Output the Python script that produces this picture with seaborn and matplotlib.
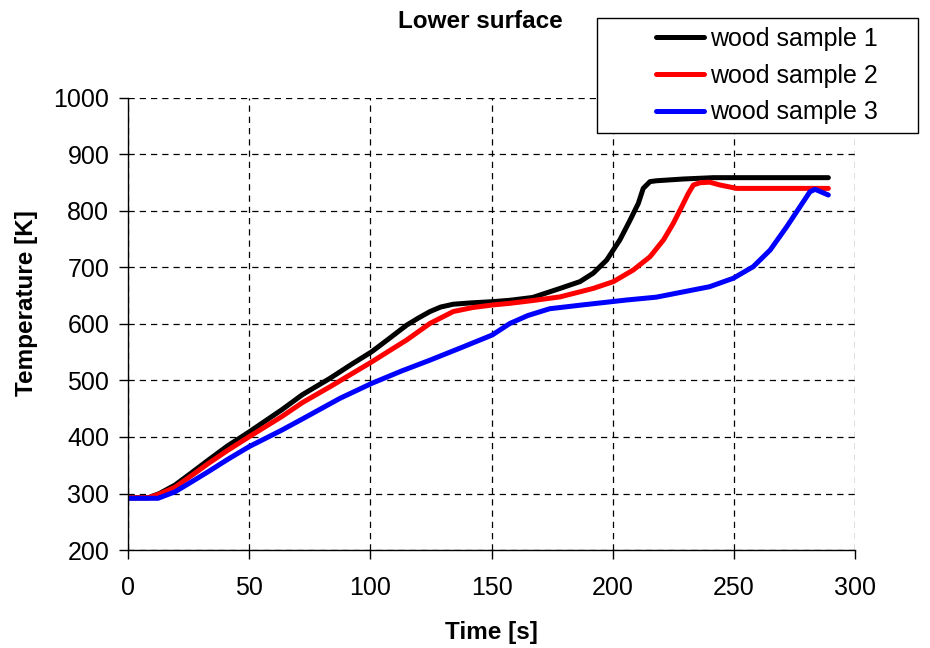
import matplotlib
matplotlib.use("Agg")
import matplotlib.pyplot as plt
import seaborn as sns
import pandas as pd
from matplotlib.patches import Rectangle

# ---- data ----
t1 = [0, 8.4, 13, 19.4, 26, 33.1, 41, 50, 63.4, 72, 83.4, 92, 100.6, 108, 115, 120, 124.6, 129, 134.2, 142, 150.3, 157.6, 167, 178.3, 186.5, 192, 197.5, 203, 207.2, 210.6, 212.6, 215.4, 218, 229, 241.5, 289]
T1 = [292.5, 292.5, 300, 315, 336, 359, 384, 409, 448, 475, 504, 528, 551, 575, 598, 611, 622, 630, 635, 637.5, 639.5, 642, 647, 663, 675, 690, 713, 749, 784, 813.6, 840, 852, 853.5, 856.6, 859, 859]

t2 = [0, 8.4, 13, 19.4, 26, 33.1, 41, 50, 63.4, 72, 83.4, 92, 100.6, 108, 115, 124.6, 134.2, 142, 150.3, 157.6, 167, 178.3, 192, 200.3, 208.5, 215.4, 221, 225, 228.5, 231.2, 233.3, 236, 240, 244.3, 251.2, 289]
T2 = [292.5, 292.5, 299, 311, 331, 353, 376, 400.5, 436, 461, 489, 511, 533, 553, 571.7, 601, 622, 629, 633.6, 636.6, 641.5, 648, 663, 675, 695.6, 719, 749, 778, 807.6, 831, 846, 850, 851, 846, 840, 840]

t3 = [0, 12.4, 19.4, 26, 33.1, 41, 50, 63.4, 72, 87.5, 100.6, 113, 124.6, 138, 150.3, 157.6, 165, 174, 188, 205.8, 218, 240, 249.8, 258, 265, 271.8, 277.3, 281.4, 283.5, 289]
T3 = [291.5, 291.5, 303, 320, 338.6, 360, 383, 412, 432, 468.5, 495, 517, 536, 559, 580.5, 601, 615, 627, 634, 642.5, 647.5, 666, 681, 701.5, 731, 772, 807.6, 834, 838.4, 828.3]

labels = ["wood sample 1", "wood sample 2", "wood sample 3"]
colors = ["#000000", "#ff0000", "#0000ff"]
xticks = [0, 50, 100, 150, 200, 250, 300]
yticks = [200, 300, 400, 500, 600, 700, 800, 900, 1000]

frames = []
for tt, TT, lab in zip([t1, t2, t3], [T1, T2, T3], labels):
    frames.append(pd.DataFrame({"Time": tt, "Temp": TT, "Sample": lab}))
df = pd.concat(frames, ignore_index=True)

sns.set_style("white")
plt.rcParams["font.family"] = ["Liberation Sans", "DejaVu Sans"]
for k in ["text.color", "axes.labelcolor", "xtick.color", "ytick.color"]:
    plt.rcParams[k] = "black"

fig = plt.figure(figsize=(9.3, 6.48), dpi=100)
ax = fig.add_axes([128/930, 1-550/648, (855-128)/930, (550-98)/648])

sns.lineplot(data=df, x="Time", y="Temp", hue="Sample", palette=colors,
             hue_order=labels, linewidth=3.6, ax=ax, sort=False,
             estimator=None, legend=True)

ax.set_xlim(0, 300)
ax.set_ylim(200, 1000)
ax.set_xticks(xticks)
ax.set_yticks(yticks)
ax.tick_params(axis="both", labelsize=18, direction="out", length=6.5,
               width=1, color="black", labelcolor="black", left=True, bottom=True)
ax.tick_params(axis="y", pad=7)
ax.tick_params(axis="x", pad=12)

ax.grid(True, color="black", linestyle=(0, (5, 4)), linewidth=0.9)
for s in ["top", "right"]:
    ax.spines[s].set_visible(False)
for s in ["left", "bottom"]:
    ax.spines[s].set_color("black")
    ax.spines[s].set_linewidth(1)

ax.set_xlabel("Time [s]", fontsize=17.5, fontweight="bold")
ax.set_ylabel("Temperature [K]", fontsize=17.5, fontweight="bold")
ax.xaxis.set_label_coords(0.5, -0.157)
ax.yaxis.set_label_coords(-0.1235, 0.546)

fig.text(480/930, 1-22/648, "Lower surface", fontsize=17.5, fontweight="bold",
         ha="center", va="center")

# legend box
handles, lbls = ax.get_legend_handles_labels()
ax.get_legend().remove()
rect = Rectangle((597/930, 1-133/648), (918-597)/930, (133-18)/648,
                 transform=fig.transFigure, facecolor="white",
                 edgecolor="black", linewidth=1, zorder=5)
fig.patches.append(rect)
leg = fig.legend(handles, lbls, loc="upper left",
                 bbox_to_anchor=(656/930, 1-27/648), frameon=False,
                 fontsize=18, handlelength=1.9, handletextpad=0.25,
                 labelspacing=0.51, borderpad=0, borderaxespad=0)
leg.set_zorder(6)
for h in leg.get_lines():
    h.set_linewidth(3.6)

fig.savefig("out.png", dpi=100)
